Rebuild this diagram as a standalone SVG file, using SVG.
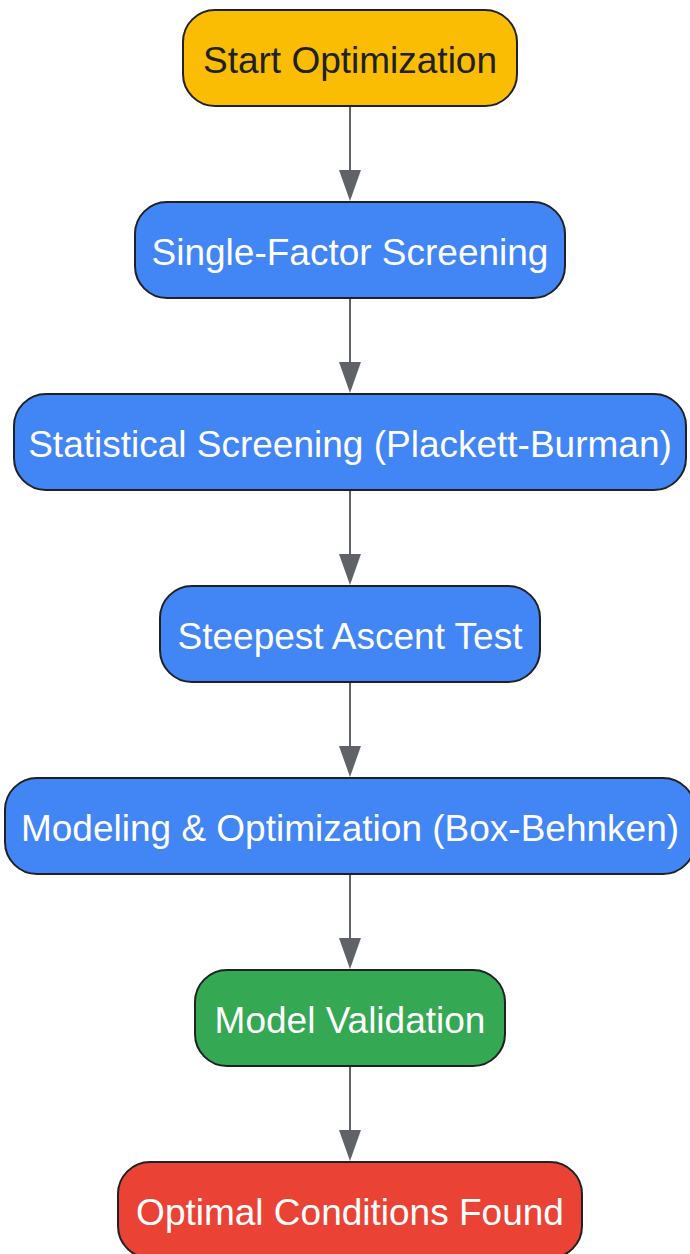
<svg xmlns="http://www.w3.org/2000/svg" width="690" height="1254" viewBox="0 0 690 1254">
<defs>
<style>
.box{stroke:#202124;stroke-width:2}
.lbl{font-family:"Liberation Sans",Arial,sans-serif;font-size:37px;text-anchor:middle;fill:#ffffff}
.edge{stroke:#5f6368;stroke-width:2;fill:none}
</style>
<marker id="ah" viewBox="0 0 22 30" refX="11" refY="30" markerWidth="22" markerHeight="30" markerUnits="userSpaceOnUse" orient="auto-start-reverse">
<path d="M0,0 L22,0 L11,30 Z" fill="#5f6368"/>
</marker>
</defs>
<rect width="690" height="1254" fill="#ffffff"/>
<g id="connectors">
<line class="edge" x1="350" y1="106" x2="350" y2="171"/><path d="M339,170 L361,170 L350,201 Z" fill="#5f6368"/>
<line class="edge" x1="350" y1="298" x2="350" y2="363"/><path d="M339,362 L361,362 L350,393 Z" fill="#5f6368"/>
<line class="edge" x1="350" y1="490" x2="350" y2="555"/><path d="M339,554 L361,554 L350,585 Z" fill="#5f6368"/>
<line class="edge" x1="350" y1="682" x2="350" y2="747"/><path d="M339,746 L361,746 L350,777 Z" fill="#5f6368"/>
<line class="edge" x1="350" y1="874" x2="350" y2="939"/><path d="M339,938 L361,938 L350,969 Z" fill="#5f6368"/>
<line class="edge" x1="350" y1="1066" x2="350" y2="1131"/><path d="M339,1130 L361,1130 L350,1161 Z" fill="#5f6368"/>
</g>
<g id="n1"><rect class="box" x="183" y="10" width="334" height="96" rx="32" fill="#fbbc04"/><text class="lbl" x="350" y="73" fill="#202124" style="fill:#202124">Start Optimization</text></g>
<g id="n2"><rect class="box" x="135" y="202" width="430" height="96" rx="32" fill="#4285f4"/><text class="lbl" x="350" y="265">Single-Factor Screening</text></g>
<g id="n3"><rect class="box" x="14" y="394" width="672" height="96" rx="32" fill="#4285f4"/><text class="lbl" x="350" y="457">Statistical Screening (Plackett-Burman)</text></g>
<g id="n4"><rect class="box" x="160" y="586" width="380" height="96" rx="32" fill="#4285f4"/><text class="lbl" x="350" y="649">Steepest Ascent Test</text></g>
<g id="n5"><rect class="box" x="5" y="778" width="690" height="96" rx="32" fill="#4285f4"/><text class="lbl" x="350" y="841">Modeling &amp; Optimization (Box-Behnken)</text></g>
<g id="n6"><rect class="box" x="195" y="970" width="310" height="96" rx="32" fill="#34a853"/><text class="lbl" x="350" y="1033">Model Validation</text></g>
<g id="n7"><rect class="box" x="118" y="1162" width="464" height="96" rx="32" fill="#ea4335"/><text class="lbl" x="350" y="1225">Optimal Conditions Found</text></g>
</svg>
